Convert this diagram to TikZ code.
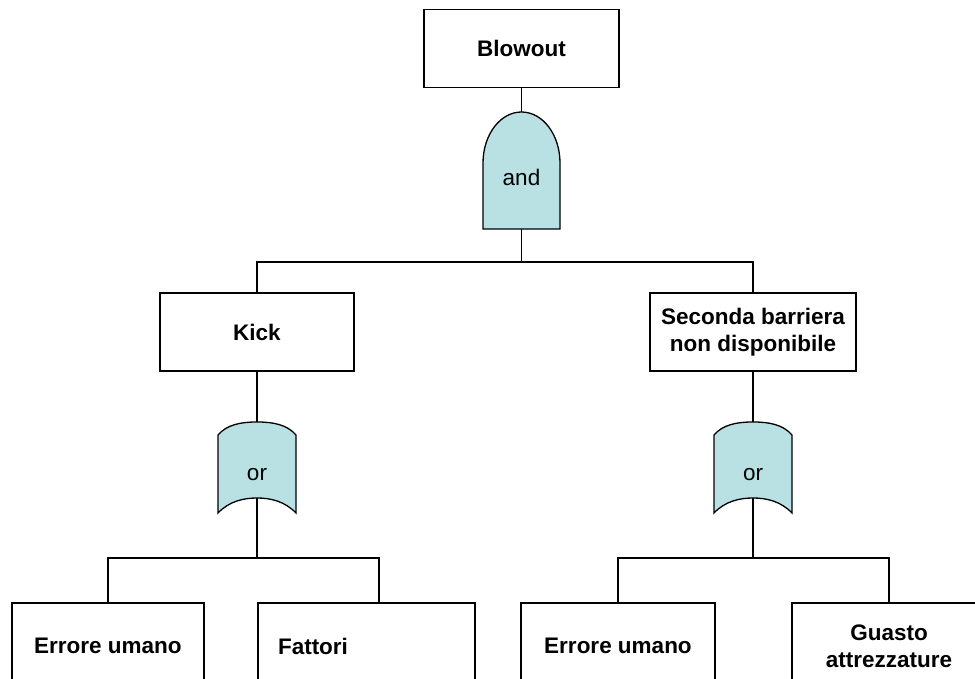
\documentclass[tikz,border=0pt]{standalone}
\usepackage{fontspec}
\setmainfont{Liberation Sans}
\usetikzlibrary{backgrounds}

\definecolor{gateblue}{RGB}{185,224,227}

\tikzset{
  evento/.style={rectangle, draw, line width=1.2pt, align=center,
    font=\bfseries\fontsize{22.5}{27}\selectfont, minimum height=78pt, inner sep=0pt},
  porta/.style={rectangle, inner sep=0pt, text depth=0pt, font=\fontsize{22.5}{27}\selectfont},
  gatefill/.style={fill=gateblue, draw, line width=1.3pt},
  ramo/.style={line width=1.2pt}
}

\begin{document}
\begin{tikzpicture}[x=1pt,y=1pt]
            \useasboundingbox (0,0) rectangle (975,679);
            \clip (0,0) rectangle (975,679);

            \begin{scope}[every node/.style={evento}]
                \node[minimum width=195pt] (blowout) at (521.5,630.5) {Blowout};
                \node[minimum width=194pt] (kick) at (257,347) {Kick};
                \node[minimum width=206pt] (sec) at (753,347) {Seconda barriera\\non disponibile};
                \node[minimum width=192pt, minimum height=86pt] (errL) at (108,33) {Errore umano};
                \node[minimum width=217pt, minimum height=86pt, text width=177pt,
                      inner xsep=20pt, align=left] (fatt) at (366.5,33) {Fattori};
                \node[minimum width=194pt, minimum height=86pt] (errR) at (618,33) {Errore umano};
                \node[minimum width=194pt, minimum height=86pt] (guasto) at (889,33) {Guasto\\attrezzature};
            \end{scope}

            \begin{scope}[every node/.style={porta}]
                \node[minimum width=77pt, minimum height=117pt, text height=31pt] (andG) at (521.5,508.5) {and};
                \node[minimum width=78pt, minimum height=91pt, text height=26pt] (orL) at (257,211.5) {or};
                \node[minimum width=78pt, minimum height=91pt, text height=26pt] (orR) at (753,211.5) {or};
            \end{scope}

            % gate bodies
            \begin{scope}[on background layer]
                \filldraw[gatefill, shift={(andG.center)}] (-38.5,-58.5) -- (-38.5,7.5)
                    arc[start angle=180, end angle=0, x radius=38.5, y radius=51] -- (38.5,-58.5) -- cycle;
                \foreach \g in {orL,orR}
                    \filldraw[gatefill, shift={(\g.center)}] (-39,-45.5) -- (-39,32.5)
                        .. controls (-30,43) and (-16,45.5) .. (0,45.5)
                        .. controls (16,45.5) and (30,43) .. (39,32.5) -- (39,-45.5)
                        .. controls (28,-34) and (14,-30.5) .. (0,-30.5)
                        .. controls (-14,-30.5) and (-28,-34) .. (-39,-45.5) -- cycle;
            \end{scope}

            \coordinate (andJ) at (521.5,417);
            \coordinate (orLJ) at (257,121);
            \coordinate (orRJ) at (753,121);
            \coordinate (fattIn) at (379,76);

            \begin{scope}[ramo]
                \path (blowout) edge (andG);
                \path (andG) edge (andJ);
                \draw (kick) |- (andJ) -| (sec);
                \path (kick) edge (orL);
                \path (sec) edge (orR);
                \path ([yshift=15pt]orL.south) edge (orLJ);
                \path ([yshift=15pt]orR.south) edge (orRJ);
                \draw (errL) |- (orLJ) -| (fattIn);
                \draw (errR) |- (orRJ) -| (guasto);
            \end{scope}
\end{tikzpicture}
\end{document}
